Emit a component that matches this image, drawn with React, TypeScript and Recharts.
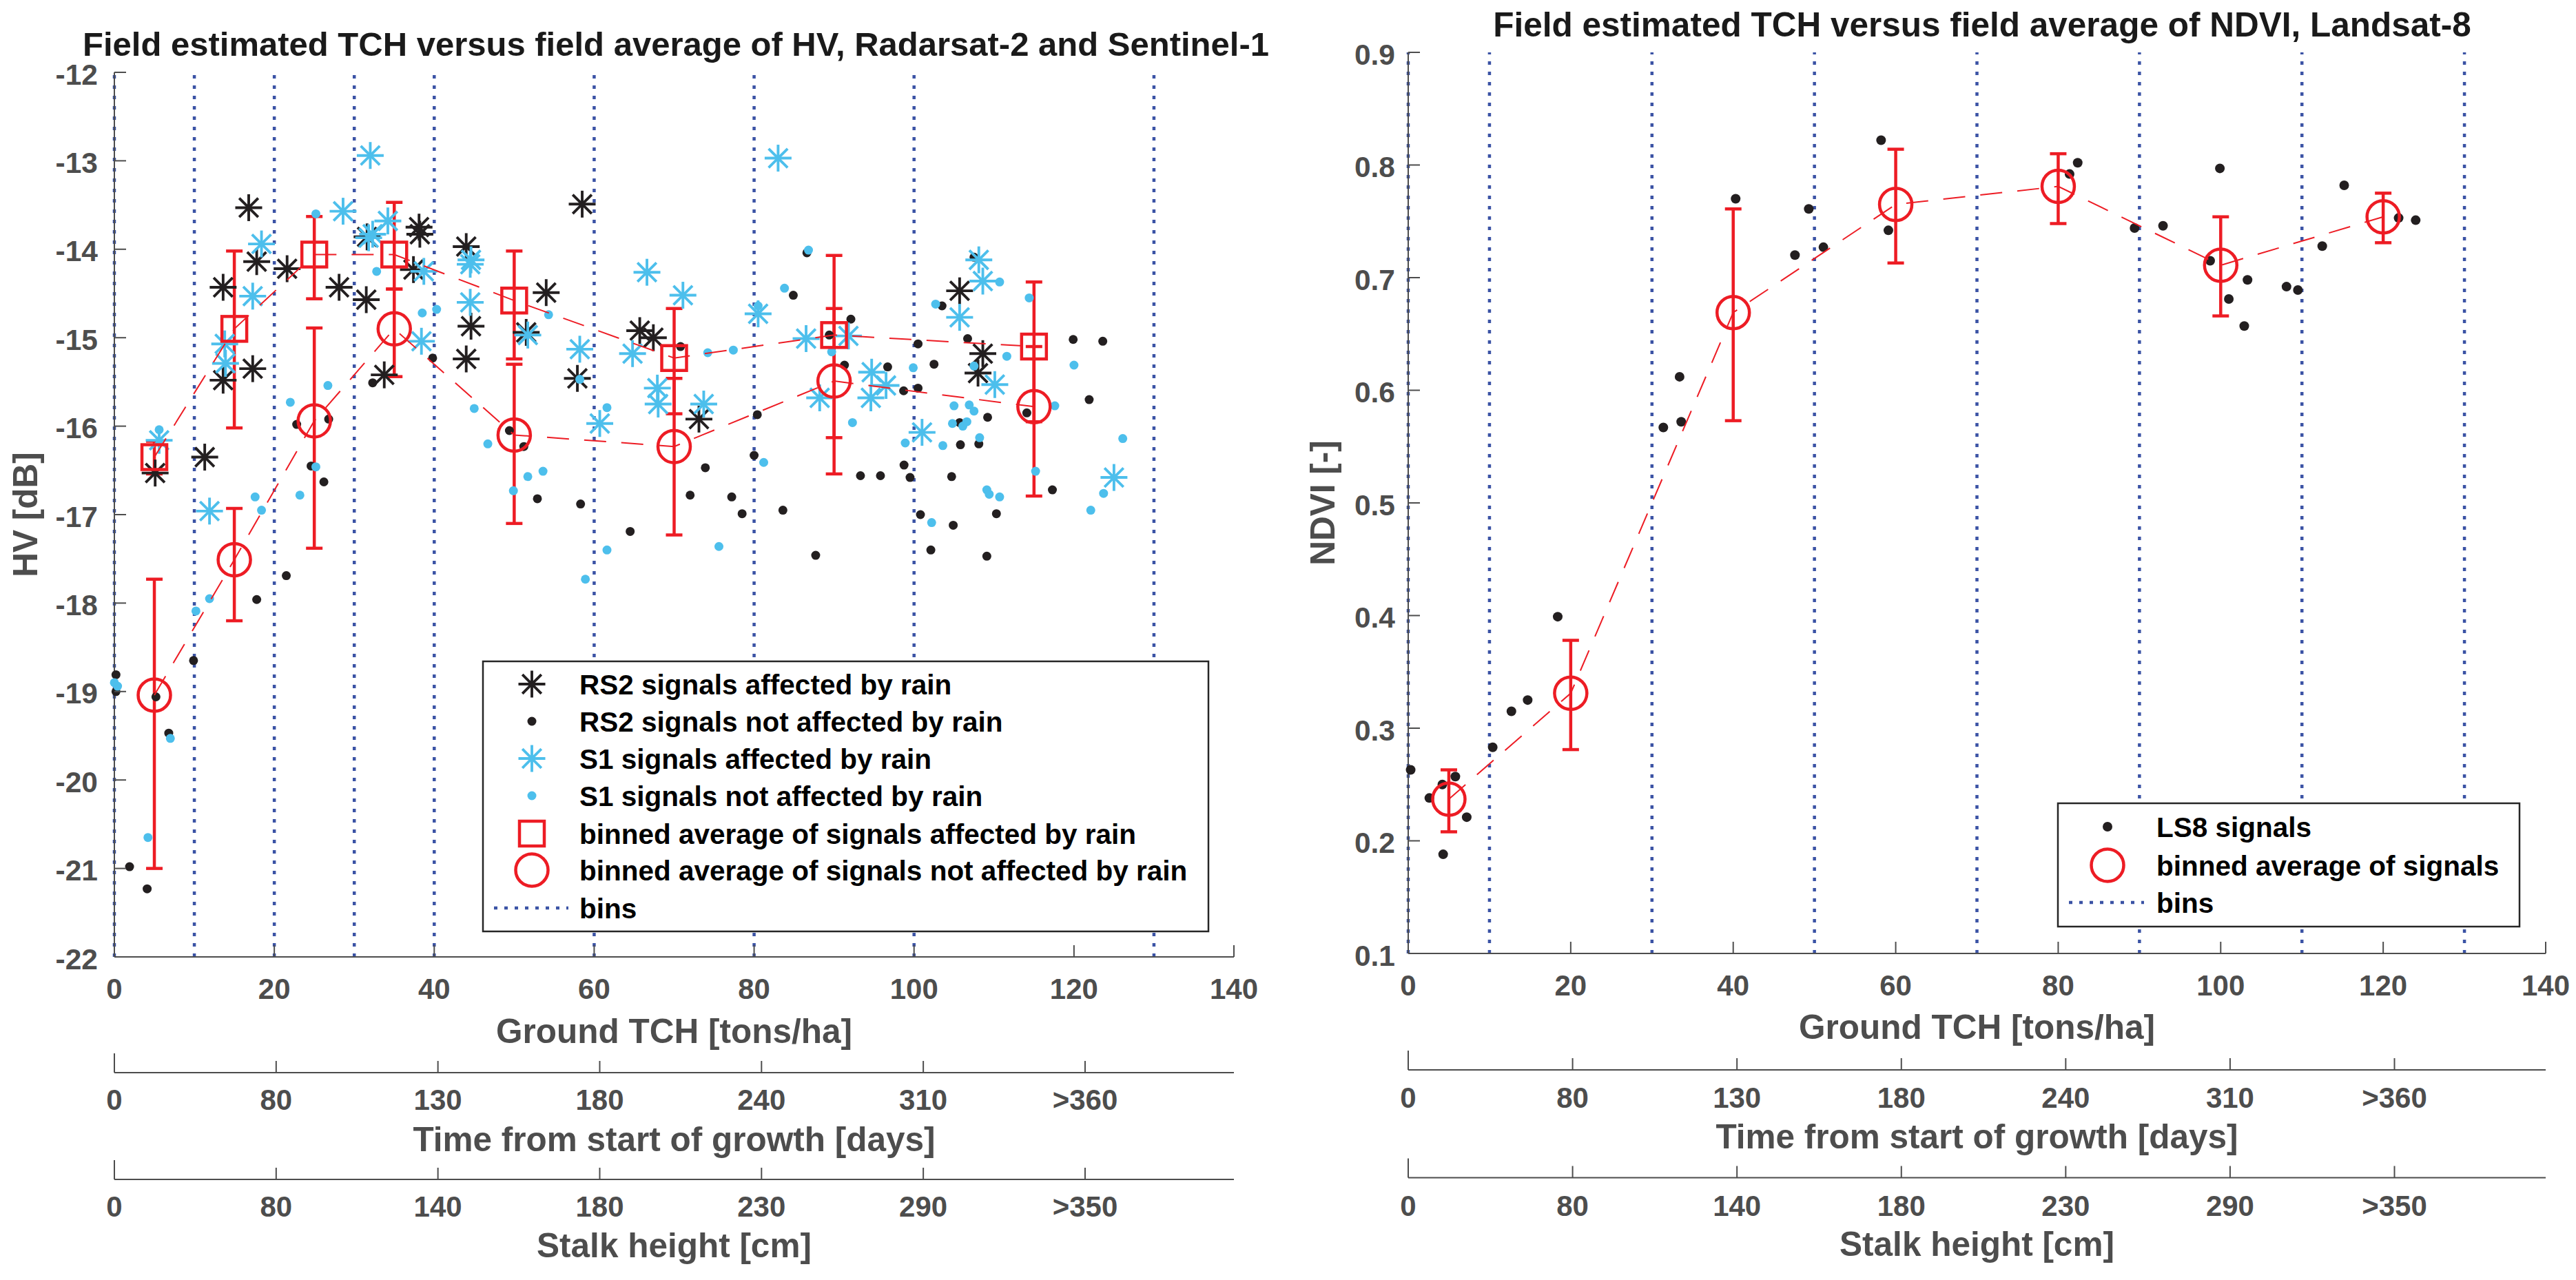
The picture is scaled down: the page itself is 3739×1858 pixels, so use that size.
import React from "react";
import { ScatterChart, Scatter, XAxis, YAxis, ReferenceLine, ErrorBar } from "recharts";

const FONT = '"Liberation Sans", Arial, Helvetica, sans-serif';
const AXIS = "#4d4d4d";
const BLACK = "#231f20";
const CYAN = "#4dbfec";
const RED = "#ed1c24";
const BLUE = "#3b53a5";

// ---------- left panel: HV backscatter (Radarsat-2 / Sentinel-1) ----------
const rs2Rain: [number, number][] = [
  [16.8, -13.53], [17.8, -14.14], [13.6, -14.43], [21.6, -14.22], [13.6, -15.48], [17.3, -15.35],
  [11.3, -16.35], [5.1, -16.53], [28.1, -14.43], [31.5, -14.57], [31.6, -13.86], [38.1, -13.75],
  [38.2, -13.83], [37.4, -14.23], [33.75, -15.42], [44.0, -13.97], [44.6, -14.87], [44.0, -15.24],
  [54.0, -14.49], [51.5, -14.94], [58.5, -13.49], [57.9, -15.46], [65.7, -14.92], [67.4, -15.0],
  [73.1, -15.92], [105.7, -14.47], [108.6, -15.18], [108.0, -15.4],
];
const rs2Dry: [number, number][] = [
  [32.3, -15.51], [39.8, -15.23], [22.8, -15.98], [26.8, -15.92], [24.6, -16.45], [26.2, -16.63],
  [21.5, -17.69], [17.8, -17.96], [49.4, -16.05], [51.2, -16.23], [52.9, -16.82], [58.3, -16.88],
  [64.5, -17.19], [70.8, -15.1], [73.9, -16.47], [72.0, -16.78], [77.2, -16.8], [78.5, -16.99],
  [83.6, -16.95], [80.0, -16.33], [80.4, -15.87], [84.9, -14.52], [86.6, -14.04], [87.7, -17.46],
  [89.4, -14.97], [92.1, -14.79], [91.3, -15.31], [93.3, -16.56], [95.8, -16.56], [96.7, -15.33],
  [98.7, -15.6], [100.5, -15.07], [100.5, -15.57], [98.75, -16.44], [99.5, -16.58], [100.8, -17.0],
  [102.1, -17.4], [102.5, -15.3], [103.5, -14.64], [104.7, -16.57], [104.9, -17.12], [105.7, -15.96],
  [105.8, -16.21], [106.7, -15.01], [108.1, -16.2], [109.2, -15.9], [109.1, -17.47], [110.3, -16.99],
  [114.1, -15.85], [117.3, -16.72], [119.9, -15.02], [123.6, -15.04], [121.9, -15.7], [107.5, -14.09],
  [0.2, -18.81], [0.2, -19.0], [5.2, -19.06], [6.8, -19.47], [9.9, -18.65], [1.9, -20.98], [4.1, -21.23],
];
const s1Rain: [number, number][] = [
  [5.6, -16.16], [11.9, -16.96], [13.8, -15.07], [13.9, -15.29], [17.3, -14.53], [18.4, -13.94],
  [28.6, -13.57], [32.0, -12.94], [31.8, -13.87], [32.3, -13.83], [34.2, -13.68], [38.7, -14.25],
  [38.4, -15.04], [44.6, -14.12], [44.5, -14.17], [44.5, -14.6], [51.7, -14.97], [58.2, -15.13],
  [60.7, -15.97], [64.8, -15.18], [66.6, -14.26], [67.9, -15.57], [68.0, -15.75], [71.1, -14.52],
  [73.7, -15.75], [80.5, -14.73], [83.0, -12.97], [86.5, -15.01], [91.8, -14.98], [88.2, -15.68],
  [94.7, -15.39], [96.5, -15.54], [94.6, -15.68], [101.0, -16.07], [105.7, -14.77], [108.1, -14.12],
  [108.6, -14.36], [110.1, -15.53], [125.0, -16.58],
];
const s1Dry: [number, number][] = [
  [5.6, -16.04], [10.2, -18.09], [11.9, -17.95], [17.6, -16.8], [18.4, -16.95], [22.0, -15.73],
  [23.2, -16.78], [25.2, -16.46], [26.7, -15.54], [25.2, -13.6], [32.8, -14.25], [38.5, -14.72],
  [40.3, -14.68], [45.0, -15.8], [46.7, -16.2], [49.9, -16.73], [51.7, -16.57], [53.6, -16.51],
  [54.3, -14.74], [58.2, -15.47], [58.9, -17.73], [61.6, -15.79], [61.6, -17.4], [74.2, -15.17],
  [77.4, -15.14], [75.6, -17.36], [81.2, -16.41], [80.5, -14.64], [83.8, -14.44], [86.8, -14.01],
  [89.7, -15.16], [92.3, -15.96], [99.9, -15.34], [98.9, -16.19], [102.7, -14.62], [102.2, -17.09],
  [103.6, -16.22], [104.8, -15.97], [105.0, -15.77], [106.1, -16.0], [106.6, -15.95], [106.9, -15.76],
  [107.5, -15.83], [107.5, -15.32], [108.2, -16.13], [109.1, -16.72], [109.4, -16.77], [110.7, -16.8],
  [110.7, -14.37], [111.6, -15.21], [114.4, -14.55], [115.2, -16.51], [117.6, -15.77], [120.0, -15.31],
  [122.1, -16.95], [123.7, -16.76], [126.1, -16.14], [0, -18.9], [0.4, -18.94], [4.2, -20.65], [7.0, -19.53],
];

// binned averages with lower / upper bar ends
const hvBinTch = [5, 15, 25, 35, 50, 70, 90, 115];
const rainMean = [-16.35, -14.9, -14.06, -14.06, -14.58, -15.23, -14.97, -15.1];
const rainLow = [-16.54, -16.02, -14.56, -14.45, -15.24, -15.86, -16.13, -15.95];
const rainHigh = [-16.17, -14.02, -13.63, -13.47, -14.02, -14.67, -14.07, -14.37];
const dryMean = [-19.04, -17.51, -15.94, -14.9, -16.1, -16.23, -15.49, -15.78];
const dryLow = [-21.0, -18.2, -17.38, -15.44, -17.1, -17.23, -16.54, -16.79];
const dryHigh = [-17.73, -16.93, -14.89, -14.45, -15.3, -15.46, -14.67, -15.1];
const hvBins = [0, 10, 20, 30, 40, 60, 80, 100, 130];

// ---------- right panel: NDVI (Landsat-8) ----------
const ls8: [number, number][] = [
  [18.4, 0.399], [31.4, 0.567], [33.6, 0.572], [33.4, 0.612], [40.3, 0.77], [47.6, 0.72],
  [49.3, 0.761], [51.1, 0.727], [58.2, 0.822], [59.1, 0.742], [82.4, 0.802], [81.4, 0.792],
  [89.4, 0.744], [92.9, 0.746], [99.9, 0.797], [98.7, 0.715], [103.3, 0.698], [101.0, 0.681],
  [102.9, 0.657], [108.1, 0.692], [109.5, 0.689], [112.5, 0.728], [115.2, 0.782], [121.9, 0.753],
  [124.0, 0.751], [0.3, 0.263], [2.6, 0.238], [4.2, 0.25], [5.8, 0.257], [7.2, 0.221], [4.3, 0.188],
  [10.4, 0.283], [12.7, 0.315], [14.7, 0.325],
];
const ndviBinTch = [5, 20, 40, 60, 80, 100, 120];
const ndviMean = [0.237, 0.331, 0.669, 0.765, 0.781, 0.711, 0.754];
const ndviLow = [0.208, 0.281, 0.573, 0.713, 0.748, 0.666, 0.731];
const ndviHigh = [0.263, 0.378, 0.761, 0.814, 0.81, 0.754, 0.775];
const ndviBins = [0, 10, 30, 50, 70, 90, 110, 130];

// ---------- axes ----------
const tchTicks = [0, 20, 40, 60, 80, 100, 120, 140];
const hvTicks = [-22, -21, -20, -19, -18, -17, -16, -15, -14, -13, -12];
const ndviTicks = [0.1, 0.2, 0.3, 0.4, 0.5, 0.6, 0.7, 0.8, 0.9];
const timeLabels = ["0", "80", "130", "180", "240", "310", ">360"];
const stalkLabels = ["0", "80", "140", "180", "230", "290", ">350"];
const subTicks = timeLabels.map((_, i) => i);

const toPts = (arr: [number, number][]) => arr.map(([x, y]) => ({ x, y }));
const toBins = (xs: number[], mean: number[], low: number[], high: number[]) =>
  xs.map((x, i) => ({ x, y: mean[i], err: [mean[i] - low[i], high[i] - mean[i]] }));
// invisible anchors so the extra scales (days / cm) get their ticks
const anchors = (yBase: number) => subTicks.map((t) => ({ x: t, y: yBase }));

const txt = { fontFamily: FONT, fontWeight: "bold" as const };

const asterisk = (color: string) => (p: any) => {
  const { cx, cy } = p;
  const r = 19.5;
  const d = r * 0.7071;
  return (
    <g stroke={color} strokeWidth={3.9}>
      <line x1={cx - r} y1={cy} x2={cx + r} y2={cy} />
      <line x1={cx} y1={cy - r} x2={cx} y2={cy + r} />
      <line x1={cx - d} y1={cy - d} x2={cx + d} y2={cy + d} />
      <line x1={cx - d} y1={cy + d} x2={cx + d} y2={cy - d} />
    </g>
  );
};
const dot = (color: string, r: number) => (p: any) => <circle cx={p.cx} cy={p.cy} r={r} fill={color} />;
const square = (p: any) => (
  <rect x={p.cx - 18} y={p.cy - 18} width={36} height={36} fill="none" stroke={RED} strokeWidth={4.5} />
);
const ring = (p: any) => <circle cx={p.cx} cy={p.cy} r={23.5} fill="none" stroke={RED} strokeWidth={4.5} />;
const nothing = () => <g />;

const xTick = (labelOffset: number, labels?: string[]) => (p: any) => {
  const { x, y, payload, index } = p;
  const text = labels ? labels[payload.value] : String(payload.value);
  const len = labels && index === 0 ? 28 : 17;
  return (
    <g>
      <line x1={x} x2={x} y1={y} y2={y - len} stroke={AXIS} strokeWidth={2} />
      <text x={x} y={y + labelOffset} textAnchor="middle" fontSize={42} fill={AXIS} {...txt}>
        {text}
      </text>
    </g>
  );
};
const yTick = (gap: number, fmt: (v: number) => string) => (p: any) => {
  const { x, y, payload } = p;
  return (
    <g>
      <line x1={x + gap} x2={x + gap + 17} y1={y} y2={y} stroke={AXIS} strokeWidth={2} />
      <text x={x} y={y + 17.5} textAnchor="end" fontSize={42.5} fill={AXIS} {...txt}>
        {fmt(payload.value)}
      </text>
    </g>
  );
};
const xLabel = (text: string, off: number) => ({
  content: (p: any) => {
    const vb = p.viewBox;
    return (
      <text x={vb.x + vb.width / 2} y={vb.y + off} textAnchor="middle" fontSize={49.5} fill={AXIS} {...txt}>
        {text}
      </text>
    );
  },
});
const yLabel = (text: string, dx: number) => ({
  content: (p: any) => {
    const vb = p.viewBox;
    const cx = vb.x + dx;
    const cy = vb.y + vb.height / 2;
    return (
      <text x={cx} y={cy} transform={`rotate(-90 ${cx} ${cy})`} textAnchor="middle" fontSize={49.5} fill={AXIS} {...txt}>
        {text}
      </text>
    );
  },
});

const axisLine = { stroke: AXIS, strokeWidth: 2 };
const binLine = { stroke: RED, strokeWidth: 2, strokeDasharray: "32 22" };

function HVChart() {
  return (
    <ScatterChart width={1900} height={1858} margin={{ top: 105, right: 109, bottom: 0, left: 16 }}>
      <XAxis
        xAxisId={0} type="number" dataKey="x" domain={[0, 140]} ticks={tchTicks} interval={0}
        height={168} tickSize={0} tickMargin={0} tickLine={false} axisLine={axisLine}
        tick={xTick(61)} label={xLabel("Ground TCH [tons/ha]", 125)}
      />
      <XAxis
        xAxisId={1} type="number" dataKey="x" domain={[0, 6.92]} allowDataOverflow ticks={subTicks} interval={0}
        height={155} tickSize={0} tickMargin={0} tickLine={false} axisLine={axisLine}
        tick={xTick(54, timeLabels)} label={xLabel("Time from start of growth [days]", 113.5)}
      />
      <XAxis
        xAxisId={2} type="number" dataKey="x" domain={[0, 6.92]} allowDataOverflow ticks={subTicks} interval={0}
        height={146} tickSize={0} tickMargin={0} tickLine={false} axisLine={axisLine}
        tick={xTick(54, stalkLabels)} label={xLabel("Stalk height [cm]", 113)}
      />
      <YAxis
        type="number" dataKey="y" domain={[-22, -12]} ticks={hvTicks} interval={0} width={150}
        tickSize={0} tickMargin={24} tickLine={false} axisLine={axisLine}
        tick={yTick(24, (v) => String(v))} label={yLabel("HV [dB]", 38)}
      />
      {hvBins.map((b) => (
        <ReferenceLine key={b} xAxisId={0} x={b} stroke={BLUE} strokeWidth={4.5} strokeDasharray="5 10" />
      ))}
      <Scatter xAxisId={1} data={anchors(hvTicks[0])} shape={nothing} isAnimationActive={false} />
      <Scatter xAxisId={2} data={anchors(hvTicks[0])} shape={nothing} isAnimationActive={false} />
      <Scatter xAxisId={0} data={toPts(rs2Rain)} shape={asterisk(BLACK)} isAnimationActive={false} />
      <Scatter xAxisId={0} data={toPts(rs2Dry)} shape={dot(BLACK, 6.5)} isAnimationActive={false} />
      <Scatter xAxisId={0} data={toPts(s1Rain)} shape={asterisk(CYAN)} isAnimationActive={false} />
      <Scatter xAxisId={0} data={toPts(s1Dry)} shape={dot(CYAN, 6.5)} isAnimationActive={false} />
      <Scatter
        xAxisId={0} data={toBins(hvBinTch, rainMean, rainLow, rainHigh)} shape={square}
        line={binLine} lineType="joint" isAnimationActive={false}
      >
        <ErrorBar dataKey="err" direction="y" width={12} stroke={RED} strokeWidth={4.5} isAnimationActive={false} />
      </Scatter>
      <Scatter
        xAxisId={0} data={toBins(hvBinTch, dryMean, dryLow, dryHigh)} shape={ring}
        line={binLine} lineType="joint" isAnimationActive={false}
      >
        <ErrorBar dataKey="err" direction="y" width={12} stroke={RED} strokeWidth={4.5} isAnimationActive={false} />
      </Scatter>
    </ScatterChart>
  );
}

function NDVIChart() {
  return (
    <ScatterChart width={1889} height={1858} margin={{ top: 76, right: 44, bottom: 0, left: 44 }}>
      <XAxis
        xAxisId={0} type="number" dataKey="x" domain={[0, 140]} ticks={tchTicks} interval={0}
        height={169} tickSize={0} tickMargin={0} tickLine={false} axisLine={axisLine}
        tick={xTick(61)} label={xLabel("Ground TCH [tons/ha]", 124)}
      />
      <XAxis
        xAxisId={1} type="number" dataKey="x" domain={[0, 6.92]} allowDataOverflow ticks={subTicks} interval={0}
        height={156.5} tickSize={0} tickMargin={0} tickLine={false} axisLine={axisLine}
        tick={xTick(55, timeLabels)} label={xLabel("Time from start of growth [days]", 113.5)}
      />
      <XAxis
        xAxisId={2} type="number" dataKey="x" domain={[0, 6.92]} allowDataOverflow ticks={subTicks} interval={0}
        height={148.5} tickSize={0} tickMargin={0} tickLine={false} axisLine={axisLine}
        tick={xTick(55, stalkLabels)} label={xLabel("Stalk height [cm]", 113)}
      />
      <YAxis
        type="number" dataKey="y" domain={[0.1, 0.9]} ticks={ndviTicks} interval={0} width={150}
        tickSize={0} tickMargin={19} tickLine={false} axisLine={axisLine}
        tick={yTick(19, (v) => v.toFixed(1))} label={yLabel("NDVI [-]", 43)}
      />
      {ndviBins.map((b) => (
        <ReferenceLine key={b} xAxisId={0} x={b} stroke={BLUE} strokeWidth={4.5} strokeDasharray="5 10" />
      ))}
      <Scatter xAxisId={1} data={anchors(ndviTicks[0])} shape={nothing} isAnimationActive={false} />
      <Scatter xAxisId={2} data={anchors(ndviTicks[0])} shape={nothing} isAnimationActive={false} />
      <Scatter xAxisId={0} data={toPts(ls8)} shape={dot(BLACK, 7)} isAnimationActive={false} />
      <Scatter
        xAxisId={0} data={toBins(ndviBinTch, ndviMean, ndviLow, ndviHigh)} shape={ring}
        line={binLine} lineType="joint" isAnimationActive={false}
      >
        <ErrorBar dataKey="err" direction="y" width={12} stroke={RED} strokeWidth={4.5} isAnimationActive={false} />
      </Scatter>
    </ScatterChart>
  );
}

function LegendRow({ y, textX, children, marker }: any) {
  return (
    <g>
      {marker}
      <text x={textX} y={y + 14.5} fontSize={40.5} fill="#000" {...txt}>
        {children}
      </text>
    </g>
  );
}

function Overlay() {
  const lx = 772;
  const ltx = 841;
  const rows = [993, 1047, 1101, 1155, 1210, 1263, 1318];
  const rx = 3059;
  const rtx = 3130;
  const rrows = [1200, 1256, 1310];
  return (
    <svg width={3739} height={1858} style={{ position: "absolute", left: 0, top: 0, pointerEvents: "none" }}>
      <text x={981} y={81} textAnchor="middle" fontSize={49} fill="#1a1a1a" {...txt}>
        Field estimated TCH versus field average of HV, Radarsat-2 and Sentinel-1
      </text>
      <text x={2877} y={53} textAnchor="middle" fontSize={49.5} fill="#1a1a1a" {...txt}>
        Field estimated TCH versus field average of NDVI, Landsat-8
      </text>

      <rect x={701} y={960} width={1053} height={392} fill="#fff" stroke="#262626" strokeWidth={2.5} />
      <LegendRow y={rows[0]} textX={ltx} marker={asterisk(BLACK)({ cx: lx, cy: rows[0] })}>RS2 signals affected by rain</LegendRow>
      <LegendRow y={rows[1]} textX={ltx} marker={dot(BLACK, 6.5)({ cx: lx, cy: rows[1] })}>RS2 signals not affected by rain</LegendRow>
      <LegendRow y={rows[2]} textX={ltx} marker={asterisk(CYAN)({ cx: lx, cy: rows[2] })}>S1 signals affected by rain</LegendRow>
      <LegendRow y={rows[3]} textX={ltx} marker={dot(CYAN, 6.5)({ cx: lx, cy: rows[3] })}>S1 signals not affected by rain</LegendRow>
      <LegendRow y={rows[4]} textX={ltx} marker={square({ cx: lx, cy: rows[4] })}>binned average of signals affected by rain</LegendRow>
      <LegendRow y={rows[5]} textX={ltx} marker={ring({ cx: lx, cy: rows[5] })}>binned average of signals not affected by rain</LegendRow>
      <LegendRow
        y={rows[6]} textX={ltx}
        marker={<line x1={717} x2={825} y1={rows[6]} y2={rows[6]} stroke={BLUE} strokeWidth={4.5} strokeDasharray="5 10" />}
      >
        bins
      </LegendRow>

      <rect x={2987} y={1166} width={670} height={179} fill="#fff" stroke="#262626" strokeWidth={2.5} />
      <LegendRow y={rrows[0]} textX={rtx} marker={dot(BLACK, 7)({ cx: rx, cy: rrows[0] })}>LS8 signals</LegendRow>
      <LegendRow y={rrows[1]} textX={rtx} marker={ring({ cx: rx, cy: rrows[1] })}>binned average of signals</LegendRow>
      <LegendRow
        y={rrows[2]} textX={rtx}
        marker={<line x1={3003} x2={3112} y1={rrows[2]} y2={rrows[2]} stroke={BLUE} strokeWidth={4.5} strokeDasharray="5 10" />}
      >
        bins
      </LegendRow>
    </svg>
  );
}

export default function App() {
  return (
    <div style={{ position: "absolute", left: 0, top: 0, width: 3739, height: 1858, background: "#fff", overflow: "hidden" }}>
      <div style={{ position: "absolute", left: 0, top: 0 }}>
        <HVChart />
      </div>
      <div style={{ position: "absolute", left: 1850, top: 0 }}>
        <NDVIChart />
      </div>
      <Overlay />
    </div>
  );
}
